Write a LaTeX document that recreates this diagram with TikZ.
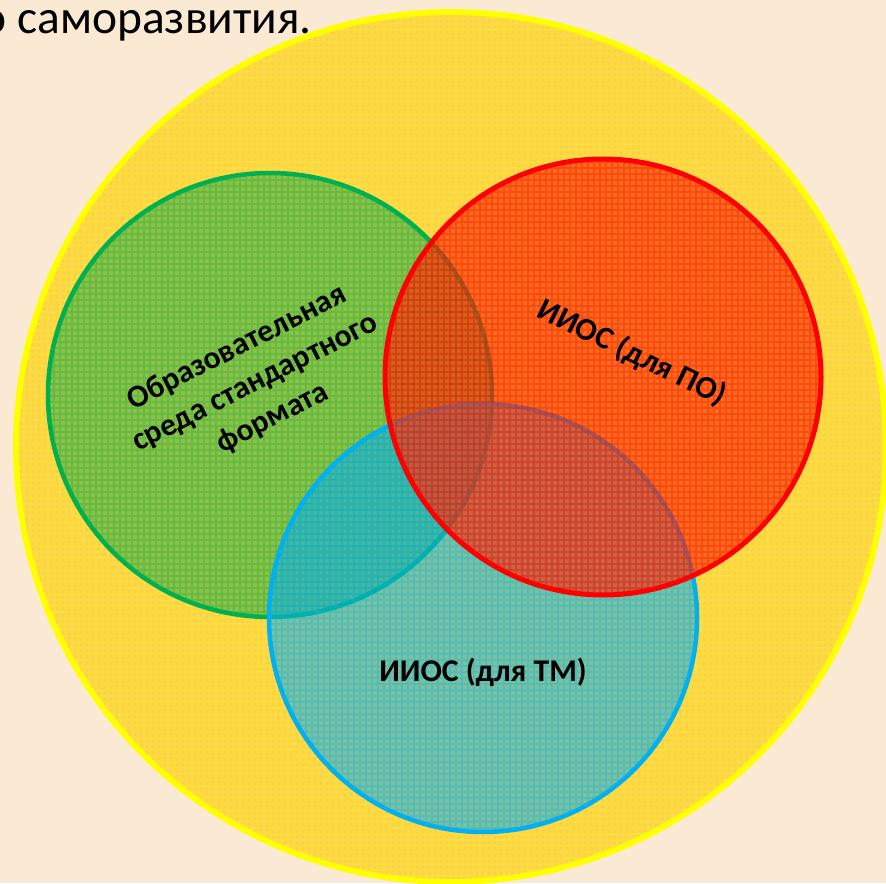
\documentclass[tikz,border=0pt]{standalone}
\usepackage{fontspec}
\setmainfont{Carlito}
\definecolor{paper}{RGB}{250,234,212}
\definecolor{outerfill}{RGB}{255,192,0}
\definecolor{outerline}{RGB}{255,255,0}
\definecolor{stdfill}{RGB}{60,175,60}
\definecolor{stdline}{RGB}{0,176,80}
\definecolor{tmfill}{RGB}{0,176,240}
\definecolor{tmline}{RGB}{0,176,240}
\definecolor{pofill}{RGB}{255,40,0}
\definecolor{poline}{RGB}{255,0,0}

\begin{document}
\begin{tikzpicture}[x=0.1mm,y=-0.1mm,
	tag/.style={font=\bfseries\fontsize{9}{11.2}\selectfont, align=center, inner sep=0pt}]
	\useasboundingbox (0,0) rectangle (886,883);
	\clip (0,0) rectangle (886,883);
	\fill[paper] (0,0) rectangle (886,883);
	% circles: centre x/centre y/radius/fill/line/opacity/line width
	\foreach \cx/\cy/\r/\fc/\lc/\op/\lw in {451/447/43.5/outerfill/outerline/0.6/0.6,
		270/395/22.2/stdfill/stdline/0.55/0.45,
		483/618/21.4/tmfill/tmline/0.5/0.45,
		603/377/21.8/pofill/poline/0.6/0.5}{
		\begin{scope}
			\clip (\cx,\cy) circle[radius=\r mm];
			\fill[\fc, fill opacity=\op] (\cx,\cy) circle[radius=\r mm];
			\draw[\lc, line width=0.12mm, opacity=0.35, step=0.6mm] (\cx-450,\cy-450) grid (\cx+450,\cy+450);
		\end{scope}
		\draw[\lc, line width=\lw mm] (\cx,\cy) circle[radius=\r mm];
	}
	\node[anchor=base west, inner sep=0pt, font=\fontsize{13.5}{16}\selectfont] (title) at (-19,34) {о саморазвития.};
	\node[tag, rotate=27] (std) at (255,383) {Образовательная\\среда стандартного\\формата};
	\node[tag, rotate=-26] (po) at (632,353) {ИИОС (для ПО)};
	\node[tag] (tm) at (483,672) {ИИОС (для ТМ)};
\end{tikzpicture}
\end{document}
